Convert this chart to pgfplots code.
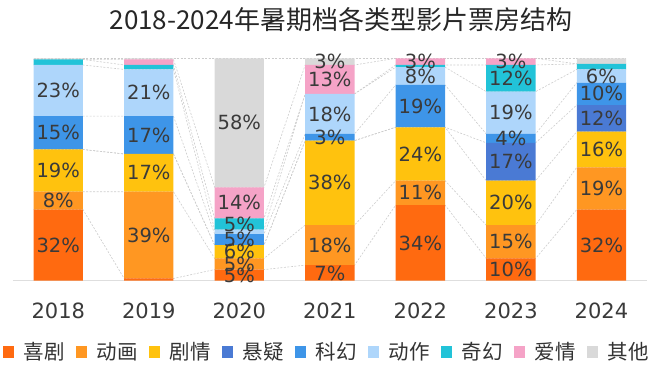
\documentclass[border=0pt]{standalone}
\usepackage{pgfplots}
\pgfplotsset{compat=1.18}
\usepackage{pgfplotstable}
\usepackage{fontspec}
\setmainfont{DejaVu Sans}
\newfontfamily\cjk{Noto Sans CJK SC}

\definecolor{cXiju}{HTML}{FF6A10}
\definecolor{cDonghua}{HTML}{FF9722}
\definecolor{cJuqing}{HTML}{FFC20E}
\definecolor{cXuanyi}{HTML}{4A7AD4}
\definecolor{cKehuan}{HTML}{3E95E8}
\definecolor{cDongzuo}{HTML}{AED6FB}
\definecolor{cQihuan}{HTML}{22C3D8}
\definecolor{cAiqing}{HTML}{F5A3C7}
\definecolor{cQita}{HTML}{D9D9D9}
\definecolor{labc}{HTML}{3A3A3A}

% one table per series: x (year index), share (%), label
\pgfplotstableread{
x y lab
0 32 32\%
1 1 {}
2 5 5\%
3 7 7\%
4 34 34\%
5 10 10\%
6 32 32\%
}\tXiju
\pgfplotstableread{
x y lab
0 8 8\%
1 39 39\%
2 5 5\%
3 18 18\%
4 11 11\%
5 15 15\%
6 19 19\%
}\tDonghua
\pgfplotstableread{
x y lab
0 19 19\%
1 17 17\%
2 6 6\%
3 38 38\%
4 24 24\%
5 20 20\%
6 16 16\%
}\tJuqing
\pgfplotstableread{
x y lab
0 0 {}
1 0 {}
2 0 {}
3 0 {}
4 0 {}
5 17 17\%
6 12 12\%
}\tXuanyi
\pgfplotstableread{
x y lab
0 15 15\%
1 17 17\%
2 5 5\%
3 3 3\%
4 19 19\%
5 4 4\%
6 10 10\%
}\tKehuan
\pgfplotstableread{
x y lab
0 23 23\%
1 21 21\%
2 2 {}
3 18 18\%
4 8 8\%
5 19 19\%
6 6 6\%
}\tDongzuo
\pgfplotstableread{
x y lab
0 2.5 {}
1 2 {}
2 5 5\%
3 0 {}
4 1 {}
5 12 12\%
6 2.5 {}
}\tQihuan
\pgfplotstableread{
x y lab
0 0 {}
1 2.5 {}
2 14 14\%
3 13 13\%
4 3 3\%
5 3 3\%
6 0 {}
}\tAiqing
\pgfplotstableread{
x y lab
0 0.5 {}
1 0.5 {}
2 58 58\%
3 3 3\%
4 0 {}
5 0 {}
6 2.5 {}
}\tQita

% cumulative segment tops, at the bar edges, for the dashed series lines
\pgfplotstableread{
x L1 L2 L3 L4 L5 L6 L7 L8 L9
-0.2725 32 40 59 59 74 97 99.5 99.5 100
0.2725 32 40 59 59 74 97 99.5 99.5 100
0.7275 1 40 57 57 74 95 97 99.5 100
1.2725 1 40 57 57 74 95 97 99.5 100
1.7275 5 10 16 16 21 23 28 42 100
2.2725 5 10 16 16 21 23 28 42 100
2.7275 7 25 63 63 66 84 84 97 100
3.2725 7 25 63 63 66 84 84 97 100
3.7275 34 45 69 69 88 96 97 100 100
4.2725 34 45 69 69 88 96 97 100 100
4.7275 10 25 45 62 66 85 97 100 100
5.2725 10 25 45 62 66 85 97 100 100
5.7275 32 51 67 79 89 95 97.5 97.5 100
6.2725 32 51 67 79 89 95 97.5 97.5 100
}\tConn

\begin{document}
\begin{tikzpicture}
\path[use as bounding box] (0,0) rectangle (655pt,-376pt);

% series lines beneath the bars
\begin{axis}[
  at={(13pt,-280.7pt)}, anchor=south west, scale only axis,
  width=633.7pt, height=222.4pt,
  xmin=-0.5, xmax=6.5, ymin=0, ymax=100,
  hide axis,
  conn/.style={draw=black!20, line width=0.6pt, dash pattern=on 2pt off 1.5pt, mark=none},
]
\addplot[conn] table[x=x,y=L1]{\tConn};
\addplot[conn] table[x=x,y=L2]{\tConn};
\addplot[conn] table[x=x,y=L3]{\tConn};
\addplot[conn] table[x=x,y=L4]{\tConn};
\addplot[conn] table[x=x,y=L5]{\tConn};
\addplot[conn] table[x=x,y=L6]{\tConn};
\addplot[conn] table[x=x,y=L7]{\tConn};
\addplot[conn] table[x=x,y=L8]{\tConn};
\addplot[conn] table[x=x,y=L9]{\tConn};
\end{axis}

\begin{axis}[
  at={(13pt,-280.7pt)}, anchor=south west, scale only axis,
  width=633.7pt, height=222.4pt,
  xmin=-0.5, xmax=6.5, ymin=0, ymax=100,
  ybar stacked, bar width=0.545,
  axis x line*=bottom, hide y axis,
  axis line style={draw=black!13, line width=0.8pt},
  xtick={0,...,6},
  xticklabels={2018,2019,2020,2021,2022,2023,2024},
  major tick length=0pt,
  xticklabel style={font=\fontsize{21}{24}\selectfont, text=labc, anchor=base, yshift=-38pt},
  point meta=explicit symbolic,
  nodes near coords={\pgfplotspointmeta},
  every node near coord/.append style={font=\fontsize{19.5}{22}\selectfont, text=labc, anchor=center, inner sep=0pt},
  title={\cjk 2018-2024年暑期档各类型影片票房结构},
  title style={font=\fontsize{26}{30}\selectfont, text=black!85, at={(0.5,1)}, anchor=center, yshift=33pt, xshift=11pt},
  legend columns=9,
  legend style={draw=none, fill=none, at={(0.5,0)}, anchor=center, yshift=-71pt, xshift=-3pt,
    font=\cjk\fontsize{20.5}{24}\selectfont, text=black!80,
    /tikz/every even column/.append style={column sep=9pt}},
  legend image code/.code={\fill[#1, draw=none] (0pt,-6pt) rectangle (11pt,6pt); \path (0pt,0pt) (19pt,0pt);},
  every axis plot/.append style={draw=none},
]
\addplot[fill=cXiju] table[x=x,y=y,meta=lab]{\tXiju};
\addplot[fill=cDonghua] table[x=x,y=y,meta=lab]{\tDonghua};
\addplot[fill=cJuqing] table[x=x,y=y,meta=lab]{\tJuqing};
\addplot[fill=cXuanyi] table[x=x,y=y,meta=lab]{\tXuanyi};
\addplot[fill=cKehuan] table[x=x,y=y,meta=lab]{\tKehuan};
\addplot[fill=cDongzuo] table[x=x,y=y,meta=lab]{\tDongzuo};
\addplot[fill=cQihuan] table[x=x,y=y,meta=lab]{\tQihuan};
\addplot[fill=cAiqing] table[x=x,y=y,meta=lab]{\tAiqing};
\addplot[fill=cQita] table[x=x,y=y,meta=lab]{\tQita};
\legend{喜剧,动画,剧情,悬疑,科幻,动作,奇幻,爱情,其他}
\end{axis}
\end{tikzpicture}
\end{document}
